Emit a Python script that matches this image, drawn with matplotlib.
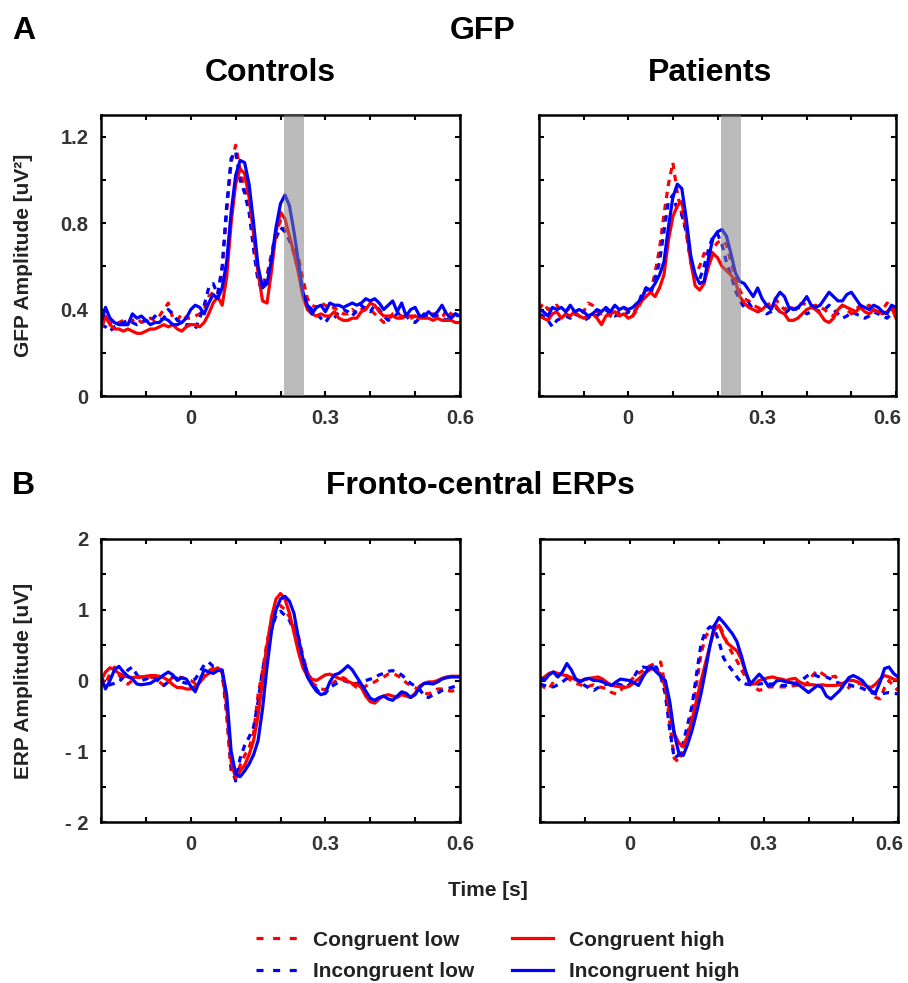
import numpy as np
import matplotlib
matplotlib.use("Agg")
import matplotlib.pyplot as plt
import matplotlib.transforms as mtransforms
from matplotlib.lines import Line2D

plt.rcParams['font.family'] = ['Liberation Sans', 'DejaVu Sans']
plt.rcParams['font.weight'] = 'bold'

# time axis (s), one sample every 10 ms
t = np.round(np.arange(-0.2, 0.6001, 0.01), 2)

# ---- GFP, controls ----
gfp_ctrl_cong_low = [0.32, 0.36, 0.34, 0.33, 0.34, 0.35, 0.34, 0.35, 0.36, 0.34,
                     0.35, 0.36, 0.35, 0.37, 0.40, 0.43, 0.36, 0.35, 0.38, 0.36,
                     0.36, 0.37, 0.38, 0.40, 0.46, 0.48, 0.47, 0.58, 0.85, 1.08,
                     1.16, 1.05, 0.96, 0.90, 0.72, 0.55, 0.52, 0.56, 0.66, 0.76,
                     0.81, 0.76, 0.72, 0.69, 0.64, 0.54, 0.45, 0.42, 0.41, 0.43,
                     0.42, 0.40, 0.41, 0.39, 0.38, 0.38, 0.40, 0.38, 0.40, 0.41,
                     0.40, 0.38, 0.36, 0.34, 0.35, 0.38, 0.38, 0.37, 0.36, 0.36,
                     0.37, 0.36, 0.37, 0.37, 0.38, 0.37, 0.36, 0.40, 0.38, 0.36,
                     0.37]
gfp_ctrl_incong_low = [0.33, 0.32, 0.30, 0.32, 0.33, 0.34, 0.35, 0.34, 0.33, 0.34,
                       0.35, 0.34, 0.37, 0.35, 0.36, 0.40, 0.38, 0.35, 0.34, 0.33,
                       0.33, 0.31, 0.36, 0.42, 0.50, 0.52, 0.47, 0.60, 0.88, 1.10,
                       1.13, 1.00, 0.94, 0.85, 0.68, 0.53, 0.49, 0.55, 0.64, 0.73,
                       0.78, 0.76, 0.72, 0.66, 0.58, 0.47, 0.42, 0.40, 0.38, 0.36,
                       0.34, 0.37, 0.36, 0.39, 0.40, 0.39, 0.37, 0.40, 0.42, 0.40,
                       0.39, 0.42, 0.40, 0.37, 0.35, 0.36, 0.38, 0.39, 0.37, 0.35,
                       0.34, 0.36, 0.38, 0.36, 0.37, 0.37, 0.36, 0.35, 0.37, 0.38,
                       0.36]
gfp_ctrl_cong_high = [0.31, 0.37, 0.33, 0.31, 0.31, 0.30, 0.31, 0.30, 0.29, 0.29,
                      0.30, 0.31, 0.31, 0.32, 0.33, 0.32, 0.33, 0.31, 0.30, 0.32,
                      0.33, 0.33, 0.32, 0.34, 0.38, 0.43, 0.46, 0.42, 0.55, 0.80,
                      0.98, 1.05, 1.03, 0.92, 0.75, 0.57, 0.44, 0.43, 0.58, 0.76,
                      0.85, 0.82, 0.74, 0.66, 0.57, 0.46, 0.40, 0.38, 0.37, 0.38,
                      0.37, 0.37, 0.39, 0.36, 0.35, 0.35, 0.36, 0.36, 0.39, 0.40,
                      0.43, 0.42, 0.39, 0.37, 0.37, 0.37, 0.36, 0.36, 0.37, 0.37,
                      0.37, 0.36, 0.36, 0.36, 0.35, 0.36, 0.35, 0.35, 0.35, 0.34,
                      0.34]
gfp_ctrl_incong_high = [0.34, 0.41, 0.36, 0.34, 0.33, 0.33, 0.33, 0.38, 0.36, 0.37,
                        0.35, 0.33, 0.34, 0.34, 0.36, 0.35, 0.33, 0.33, 0.34, 0.36,
                        0.40, 0.42, 0.41, 0.38, 0.43, 0.47, 0.45, 0.50, 0.62, 0.85,
                        1.02, 1.09, 1.08, 0.98, 0.80, 0.60, 0.50, 0.52, 0.63, 0.78,
                        0.89, 0.93, 0.88, 0.76, 0.62, 0.48, 0.42, 0.38, 0.41, 0.42,
                        0.39, 0.43, 0.42, 0.42, 0.41, 0.42, 0.43, 0.42, 0.43, 0.45,
                        0.44, 0.45, 0.43, 0.40, 0.42, 0.44, 0.39, 0.43, 0.37, 0.40,
                        0.41, 0.37, 0.37, 0.39, 0.37, 0.39, 0.42, 0.38, 0.36, 0.38,
                        0.37]

# ---- GFP, patients ----
gfp_pat_cong_low = [0.40, 0.43, 0.40, 0.41, 0.42, 0.39, 0.39, 0.41, 0.38, 0.37,
                    0.39, 0.43, 0.42, 0.39, 0.38, 0.39, 0.37, 0.36, 0.40, 0.41,
                    0.39, 0.37, 0.40, 0.44, 0.50, 0.48, 0.57, 0.68, 0.84, 0.98,
                    1.08, 0.94, 0.84, 0.76, 0.63, 0.56, 0.60, 0.66, 0.64, 0.68,
                    0.71, 0.72, 0.70, 0.62, 0.55, 0.49, 0.45, 0.44, 0.42, 0.41,
                    0.40, 0.42, 0.43, 0.45, 0.42, 0.40, 0.42, 0.40, 0.42, 0.43,
                    0.42, 0.41, 0.42, 0.41, 0.40, 0.38, 0.37, 0.40, 0.42, 0.40,
                    0.38, 0.40, 0.42, 0.41, 0.42, 0.40, 0.38, 0.40, 0.43, 0.41,
                    0.39]
gfp_pat_incong_low = [0.38, 0.37, 0.35, 0.32, 0.35, 0.36, 0.37, 0.36, 0.38, 0.37,
                      0.35, 0.36, 0.38, 0.37, 0.39, 0.40, 0.38, 0.37, 0.38, 0.37,
                      0.39, 0.38, 0.41, 0.47, 0.50, 0.47, 0.54, 0.62, 0.76, 0.90,
                      0.93, 0.86, 0.84, 0.76, 0.62, 0.54, 0.54, 0.60, 0.68, 0.74,
                      0.75, 0.70, 0.62, 0.56, 0.49, 0.44, 0.41, 0.43, 0.40, 0.39,
                      0.40, 0.38, 0.39, 0.41, 0.39, 0.38, 0.40, 0.39, 0.41, 0.40,
                      0.38, 0.39, 0.40, 0.39, 0.40, 0.42, 0.40, 0.38, 0.36, 0.37,
                      0.39, 0.38, 0.37, 0.36, 0.37, 0.39, 0.38, 0.37, 0.36, 0.38,
                      0.37]
gfp_pat_cong_high = [0.37, 0.36, 0.35, 0.38, 0.39, 0.36, 0.38, 0.37, 0.39, 0.37,
                     0.36, 0.37, 0.38, 0.36, 0.33, 0.37, 0.38, 0.39, 0.37, 0.38,
                     0.36, 0.37, 0.41, 0.44, 0.46, 0.48, 0.46, 0.50, 0.56, 0.72,
                     0.83, 0.88, 0.90, 0.78, 0.62, 0.51, 0.49, 0.52, 0.60, 0.66,
                     0.64, 0.60, 0.58, 0.56, 0.53, 0.46, 0.43, 0.41, 0.40, 0.39,
                     0.40, 0.42, 0.41, 0.42, 0.39, 0.38, 0.35, 0.35, 0.36, 0.38,
                     0.40, 0.41, 0.40, 0.38, 0.35, 0.34, 0.36, 0.40, 0.42, 0.41,
                     0.40, 0.39, 0.41, 0.39, 0.38, 0.40, 0.39, 0.38, 0.39, 0.41,
                     0.36]
gfp_pat_incong_high = [0.40, 0.39, 0.37, 0.41, 0.40, 0.41, 0.39, 0.42, 0.39, 0.40,
                       0.39, 0.37, 0.38, 0.40, 0.39, 0.41, 0.39, 0.42, 0.40, 0.41,
                       0.40, 0.41, 0.43, 0.45, 0.50, 0.49, 0.52, 0.56, 0.62, 0.78,
                       0.92, 0.98, 0.96, 0.82, 0.65, 0.56, 0.52, 0.53, 0.64, 0.73,
                       0.76, 0.77, 0.74, 0.66, 0.57, 0.53, 0.52, 0.49, 0.46, 0.50,
                       0.45, 0.42, 0.40, 0.45, 0.48, 0.46, 0.41, 0.40, 0.41, 0.43,
                       0.46, 0.42, 0.41, 0.42, 0.45, 0.48, 0.46, 0.44, 0.44, 0.47,
                       0.48, 0.45, 0.42, 0.41, 0.40, 0.42, 0.41, 0.39, 0.38, 0.42,
                       0.41]

# ---- ERP, controls ----
erp_ctrl_cong_low = [0.05, -0.05, 0.10, 0.19, 0.08, -0.02, -0.05, 0.00, 0.04, 0.05,
                     0.05, 0.05, 0.03, -0.02, -0.07, -0.02, 0.05, 0.05, 0.04, 0.02,
                     0.00, -0.04, 0.02, 0.10, 0.14, 0.17, 0.19, 0.12, -0.50, -1.30,
                     -1.38, -1.20, -1.06, -0.95, -0.75, -0.20, 0.14, 0.55, 0.82, 1.00,
                     1.06, 1.00, 0.90, 0.78, 0.62, 0.35, 0.12, -0.03, -0.08, -0.12,
                     -0.13, -0.08, -0.02, 0.02, 0.04, 0.00, -0.05, -0.10, -0.12, -0.08,
                     -0.04, -0.02, 0.02, 0.05, 0.09, 0.10, 0.07, 0.03, -0.03, -0.07,
                     -0.10, -0.14, -0.18, -0.19, -0.16, -0.12, -0.12, -0.14, -0.15, -0.14,
                     -0.14]
erp_ctrl_incong_low = [0.00, -0.10, -0.06, -0.04, -0.02, 0.05, 0.15, 0.19, 0.08, 0.00,
                       0.02, 0.05, 0.04, -0.02, -0.07, -0.02, 0.05, 0.03, -0.02, -0.04,
                       0.00, 0.02, 0.12, 0.22, 0.26, 0.20, 0.18, 0.12, -0.40, -1.20,
                       -1.42, -1.10, -0.92, -0.80, -0.66, -0.30, 0.15, 0.45, 0.72, 0.92,
                       0.98, 0.92, 0.85, 0.70, 0.50, 0.30, 0.12, 0.00, -0.12, -0.20,
                       -0.18, -0.10, -0.06, -0.02, 0.00, -0.02, -0.05, -0.04, -0.02, 0.00,
                       0.02, 0.04, 0.08, 0.10, 0.13, 0.14, 0.11, 0.08, 0.02, -0.04,
                       -0.08, -0.12, -0.22, -0.24, -0.20, -0.18, -0.14, -0.12, -0.10, -0.08,
                       -0.07]
erp_ctrl_cong_high = [0.00, 0.12, 0.18, 0.15, 0.10, 0.07, 0.05, 0.04, 0.05, 0.05,
                      0.06, 0.07, 0.07, 0.06, 0.04, 0.00, -0.06, -0.10, -0.10, -0.12,
                      -0.12, -0.08, -0.03, 0.05, 0.10, 0.14, 0.18, 0.12, -0.35, -1.15,
                      -1.38, -1.28, -1.20, -1.05, -0.85, -0.50, 0.00, 0.50, 0.90, 1.15,
                      1.23, 1.15, 0.95, 0.68, 0.40, 0.18, 0.06, 0.02, 0.00, 0.04,
                      0.08, 0.09, 0.06, 0.03, 0.01, -0.01, -0.04, -0.05, -0.10, -0.22,
                      -0.30, -0.32, -0.26, -0.22, -0.20, -0.22, -0.24, -0.20, -0.22, -0.24,
                      -0.18, -0.08, -0.04, -0.02, -0.02, 0.00, 0.03, 0.05, 0.06, 0.06,
                      0.06]
erp_ctrl_incong_high = [0.05, -0.12, 0.00, 0.15, 0.20, 0.12, 0.06, 0.02, -0.05, -0.06,
                        -0.05, -0.04, 0.00, 0.03, 0.08, 0.12, 0.08, 0.00, 0.04, 0.02,
                        -0.08, -0.16, 0.00, 0.15, 0.12, 0.10, 0.14, 0.15, -0.20, -1.00,
                        -1.32, -1.36, -1.28, -1.18, -1.05, -0.85, -0.40, 0.20, 0.70, 1.00,
                        1.15, 1.19, 1.12, 0.95, 0.60, 0.30, 0.05, -0.06, -0.15, -0.20,
                        -0.18, -0.02, 0.08, 0.10, 0.15, 0.21, 0.15, 0.05, -0.05, -0.15,
                        -0.25, -0.28, -0.24, -0.22, -0.26, -0.28, -0.22, -0.16, -0.18, -0.24,
                        -0.20, -0.10, -0.04, -0.04, -0.05, -0.02, 0.02, 0.04, 0.05, 0.05,
                        0.05]

# ---- ERP, patients ----
erp_pat_cong_low = [-0.05, -0.10, -0.12, -0.02, 0.09, 0.06, 0.04, 0.00, -0.04, -0.06,
                    -0.09, -0.08, -0.06, -0.09, -0.10, -0.12, -0.17, -0.19, -0.14, -0.07,
                    -0.02, 0.05, 0.10, 0.14, 0.19, 0.22, 0.25, 0.26, -0.09, -0.60,
                    -1.10, -1.15, -0.95, -0.75, -0.45, -0.05, 0.38, 0.62, 0.72, 0.78,
                    0.80, 0.65, 0.50, 0.38, 0.28, 0.15, 0.05, -0.05, -0.10, -0.14,
                    -0.12, -0.09, -0.09, -0.09, -0.09, -0.09, -0.08, -0.07, -0.06, -0.07,
                    -0.02, 0.08, 0.14, 0.10, 0.06, 0.05, 0.06, -0.05, -0.14, -0.10,
                    -0.04, -0.04, -0.05, -0.05, -0.15, -0.24, -0.26, -0.10, 0.00, -0.08,
                    -0.14]
erp_pat_incong_low = [-0.05, -0.07, -0.09, -0.09, -0.06, -0.02, 0.03, 0.05, 0.02, -0.03,
                      -0.07, -0.11, -0.14, -0.10, -0.06, -0.05, -0.05, -0.05, -0.06, -0.09,
                      -0.06, 0.05, 0.16, 0.19, 0.18, 0.19, 0.19, 0.05, -0.19, -0.70,
                      -1.10, -1.05, -0.88, -0.62, -0.35, 0.10, 0.52, 0.70, 0.76, 0.72,
                      0.55, 0.32, 0.22, 0.14, 0.05, -0.03, -0.05, -0.06, -0.05, -0.05,
                      -0.04, -0.05, -0.05, -0.06, -0.07, -0.07, -0.06, -0.04, -0.02, 0.03,
                      0.08, 0.09, 0.06, 0.04, 0.05, 0.02, -0.02, -0.04, -0.05, -0.06,
                      -0.08, -0.09, -0.11, -0.14, -0.17, -0.19, -0.19, -0.18, -0.17, -0.18,
                      -0.19]
erp_pat_cong_high = [0.00, 0.05, 0.10, 0.12, 0.10, 0.08, 0.07, 0.04, 0.01, 0.00,
                     0.01, 0.03, 0.04, 0.05, 0.02, -0.03, -0.07, -0.08, -0.09, -0.10,
                     -0.08, -0.03, 0.02, 0.08, 0.13, 0.17, 0.14, 0.09, -0.10, -0.45,
                     -0.75, -0.88, -0.94, -0.78, -0.55, -0.28, 0.00, 0.25, 0.50, 0.72,
                     0.78, 0.62, 0.52, 0.47, 0.42, 0.30, 0.10, -0.05, -0.05, 0.00,
                     0.02, 0.04, 0.05, 0.03, 0.02, 0.00, 0.02, 0.03, -0.02, -0.05,
                     -0.06, -0.06, -0.07, -0.06, -0.07, -0.07, -0.07, -0.06, -0.03, 0.00,
                     0.00, -0.02, -0.05, -0.08, -0.10, -0.05, 0.02, 0.07, 0.05, 0.02,
                     0.00]
erp_pat_incong_high = [0.05, 0.00, 0.08, 0.12, 0.05, 0.12, 0.24, 0.15, 0.02, -0.02,
                       0.02, 0.03, 0.00, 0.00, -0.02, -0.05, -0.07, -0.02, 0.02, 0.01,
                       0.00, -0.03, -0.07, 0.05, 0.15, 0.19, 0.12, 0.06, 0.00, -0.30,
                       -0.75, -1.02, -1.06, -0.90, -0.70, -0.45, -0.18, 0.15, 0.50, 0.78,
                       0.89, 0.82, 0.74, 0.66, 0.55, 0.35, 0.12, -0.05, 0.02, 0.09,
                       0.02, -0.08, -0.06, 0.00, 0.00, -0.02, -0.03, -0.04, -0.07, -0.12,
                       -0.17, -0.12, -0.07, -0.10, -0.22, -0.26, -0.20, -0.14, -0.05, 0.04,
                       0.07, 0.04, 0.00, -0.08, -0.15, -0.17, -0.02, 0.17, 0.19, 0.10,
                       0.05]

# time window highlighted on GFP panels
win_start, win_end = 0.207, 0.253

labels = ["Congruent low", "Incongruent low", "Congruent high", "Incongruent high"]
RED = "#ff0000"
BLUE = "#0000ff"
DASH = (0, (2, 1.8))
LW = 2.3
TICK_COL = "#333333"


def draw(ax, cl, il, ch, ih):
    ax.plot(t, cl, color=RED, lw=LW, ls=DASH)
    ax.plot(t, il, color=BLUE, lw=LW, ls=DASH)
    ax.plot(t, ch, color=RED, lw=LW)
    ax.plot(t, ih, color=BLUE, lw=LW)
    ax.set_xlim(-0.2, 0.6)
    ax.set_xticks(np.round(np.arange(-0.2, 0.601, 0.1), 1))
    ax.set_xticklabels(['', '', '0', '', '', '0.3', '', '', '0.6'])
    for s in ax.spines.values():
        s.set_linewidth(1.8)
        s.set_color('black')
    ax.tick_params(direction='in', length=3.5, width=1.5, top=True, right=True,
                   labelsize=14.5, labelcolor=TICK_COL, pad=9)


fig = plt.figure(figsize=(9.08, 9.83), dpi=100)
W, H = 908, 983


def box(l, top, r, bot):
    return [l / W, 1 - bot / H, (r - l) / W, (bot - top) / H]


ax1 = fig.add_axes(box(101, 115, 460, 396))
ax2 = fig.add_axes(box(539, 115, 896, 396))
ax3 = fig.add_axes(box(101, 539, 460, 822))
ax4 = fig.add_axes(box(540, 539, 898, 822))

draw(ax1, gfp_ctrl_cong_low, gfp_ctrl_incong_low, gfp_ctrl_cong_high, gfp_ctrl_incong_high)
draw(ax2, gfp_pat_cong_low, gfp_pat_incong_low, gfp_pat_cong_high, gfp_pat_incong_high)
draw(ax3, erp_ctrl_cong_low, erp_ctrl_incong_low, erp_ctrl_cong_high, erp_ctrl_incong_high)
draw(ax4, erp_pat_cong_low, erp_pat_incong_low, erp_pat_cong_high, erp_pat_incong_high)

for ax in (ax1, ax2):
    ax.axvspan(win_start, win_end, color='#808080', alpha=0.53, lw=0, zorder=5)
    ax.set_ylim(0, 1.3)
    ax.set_yticks([0, 0.2, 0.4, 0.6, 0.8, 1.0, 1.2])
ax1.set_yticklabels(['0', '', '0.4', '', '0.8', '', '1.2'])
ax2.set_yticklabels([])

for ax in (ax3, ax4):
    ax.set_ylim(-2, 2)
    ax.set_yticks(np.arange(-2, 2.01, 0.5))
ax3.set_yticklabels(['- 2', '', '- 1', '', '0', '', '1', '', '2'])
ax4.set_yticklabels([])

# pull the last x label of the right panels a little inwards so it stays on the canvas
shift = mtransforms.ScaledTranslation(-6 / 72, 0, fig.dpi_scale_trans)
for ax in (ax2, ax4):
    lab = ax.get_xticklabels()[-1]
    lab.set_transform(lab.get_transform() + shift)

ax1.set_ylabel("GFP Amplitude [uV²]", fontsize=15, fontweight='bold', color='#222222')
ax1.yaxis.set_label_coords(-0.19, 0.5)
ax3.set_ylabel("ERP Amplitude [uV]", fontsize=15, fontweight='bold', color='#222222')
ax3.yaxis.set_label_coords(-0.19, 0.5)

fig.text(12 / W, 1 - 31 / H, "A", fontsize=23, fontweight='bold', va='center')
fig.text(12 / W, 1 - 486 / H, "B", fontsize=23, fontweight='bold', va='center')
fig.text(483 / W, 1 - 31 / H, "GFP", fontsize=23, fontweight='bold', ha='center', va='center')
fig.text(270 / W, 1 - 73 / H, "Controls", fontsize=23, fontweight='bold', ha='center', va='center')
fig.text(710 / W, 1 - 73 / H, "Patients", fontsize=23, fontweight='bold', ha='center', va='center')
fig.text(480 / W, 1 - 486 / H, "Fronto-central ERPs", fontsize=23, fontweight='bold',
         ha='center', va='center')
fig.text(488 / W, 1 - 890 / H, "Time [s]", fontsize=15, fontweight='bold', ha='center',
         va='center', color='#222222')

handles = [Line2D([], [], color=RED, lw=LW, ls=(0, (2.2, 3))),
           Line2D([], [], color=BLUE, lw=LW, ls=(0, (2.2, 3))),
           Line2D([], [], color=RED, lw=LW),
           Line2D([], [], color=BLUE, lw=LW)]
leg = fig.legend(handles, labels, ncol=2, loc='center', bbox_to_anchor=(498 / W, 1 - 956 / H),
                 frameon=False, fontsize=15, handlelength=1.95, handletextpad=0.8,
                 columnspacing=1.8, labelspacing=0.6, borderpad=0)
for txt in leg.get_texts():
    txt.set_color('#222222')

fig.savefig("out.png", dpi=100)
